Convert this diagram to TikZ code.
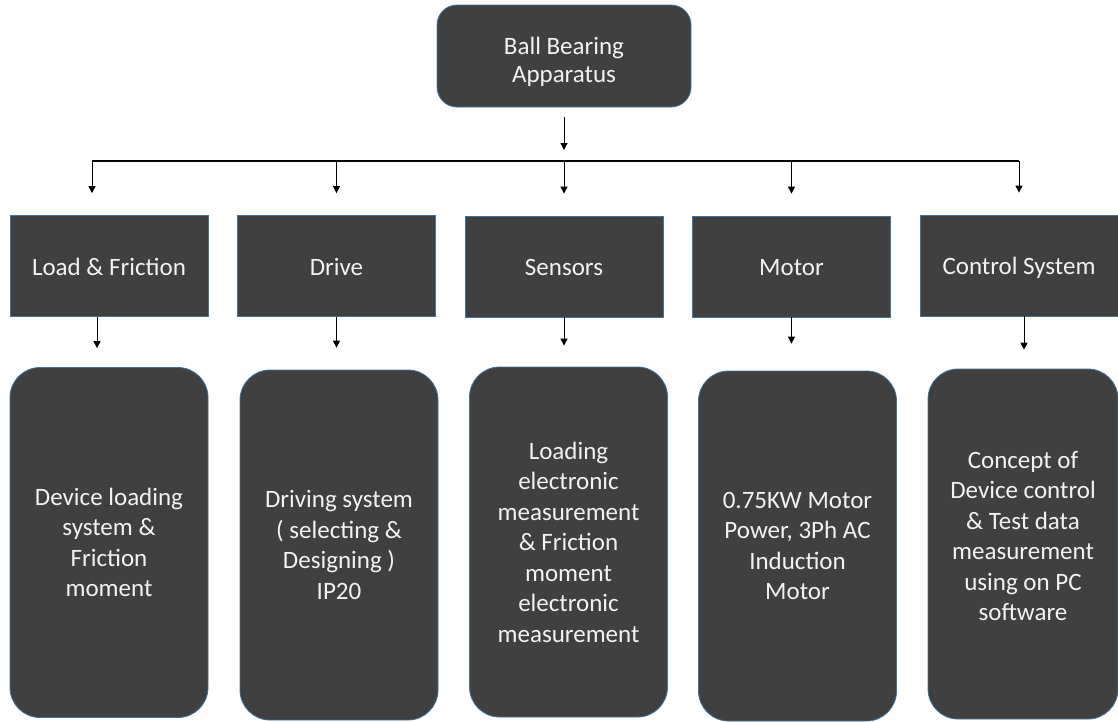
\documentclass[tikz,border=0pt]{standalone}
\usepackage{fontspec}
\setmainfont{Carlito}
\usetikzlibrary{arrows.meta}
\definecolor{boxfill}{RGB}{64,64,64}
\definecolor{boxline}{RGB}{65,113,156}
\definecolor{boxtext}{RGB}{242,242,242}
\tikzset{block/.style={draw=boxline,fill=boxfill,text=boxtext,line width=0.8pt,align=center,inner sep=0pt},
         headbox/.style={block,rounded corners=20pt,minimum width=254pt,minimum height=102pt,
                         font=\fontsize{25}{28}\selectfont,text height=58pt},
         partbox/.style={block,minimum width=198pt,minimum height=101pt,text height=20pt,text depth=2pt},
         infobox/.style={block,rounded corners=30pt,minimum width=198pt,minimum height=350pt},
         link/.style={draw=black,line width=1pt,-{Triangle[length=7pt,width=7pt]}},
         bus/.style={draw=black,line width=2pt}}
\begin{document}
\begin{tikzpicture}[x=1pt,y=-1pt,font=\fontsize{25}{30.5}\selectfont]
  \useasboundingbox (0,0) rectangle (1118,721);
  % top
  \node[headbox] (top) at (564,56) {Ball Bearing\\Apparatus};
  \coordinate (busL) at (92,161);
  \coordinate (busR) at (1019,161);
  % parts
  \node[partbox] (m1) at (109,266) {Load \& Friction};
  \node[partbox] (m2) at (336.5,266) {Drive};
  \node[partbox] (m3) at (564,266.5) {Sensors};
  \node[partbox] (m4) at (791.5,266.5) {Motor};
  \node[partbox] (m5) at (1019,265.5) {Control System};
  % details
  \node[infobox] (b1) at (109,542.5) {Device loading\\system \&\\Friction\\moment};
  \node[infobox] (b2) at (339,545) {Driving system\\( selecting \&\\Designing )\\IP20};
  \node[infobox] (b3) at (568.5,542) {Loading\\electronic\\measurement\\\& Friction\\moment\\electronic\\measurement};
  \node[infobox] (b4) at (797.5,546) {0.75KW Motor\\Power, 3Ph AC\\Induction\\Motor};
  \node[infobox,minimum width=190pt,text depth=16pt] (b5) at (1023,544) {Concept of\\Device control\\\& Test data\\measurement\\using on PC\\software};
  % connectors
  \draw[link,shorten <=10pt,shorten >=11pt] (top.south) -- (top.south |- busL);
  \draw[bus] (busL) -- (busR);
  \draw[link,shorten >=22pt] (busL) -- (busL |- m1.north);
  \draw[link,shorten >=22pt] (m2.north |- busL) -- (m2.north);
  \draw[link,shorten >=22pt] (m3.north |- busL) -- (m3.north);
  \draw[link,shorten >=22pt] (m4.north |- busL) -- (m4.north);
  \draw[link,shorten >=22pt] (busR) -- (busR |- m5.north);
  \draw[link,shorten >=19pt] ([xshift=-12pt]m1.south) -- ([xshift=-12pt]m1.south |- b1.north);
  \draw[link,shorten >=22pt] (m2.south) -- (m2.south |- b2.north);
  \draw[link,shorten >=21pt] (m3.south) -- (m3.south |- b3.north);
  \draw[link,shorten >=27pt] (m4.south) -- (m4.south |- b4.north);
  \draw[link,shorten >=19pt] ([xshift=5pt]m5.south) -- ([xshift=5pt]m5.south |- b5.north);
\end{tikzpicture}
\end{document}
